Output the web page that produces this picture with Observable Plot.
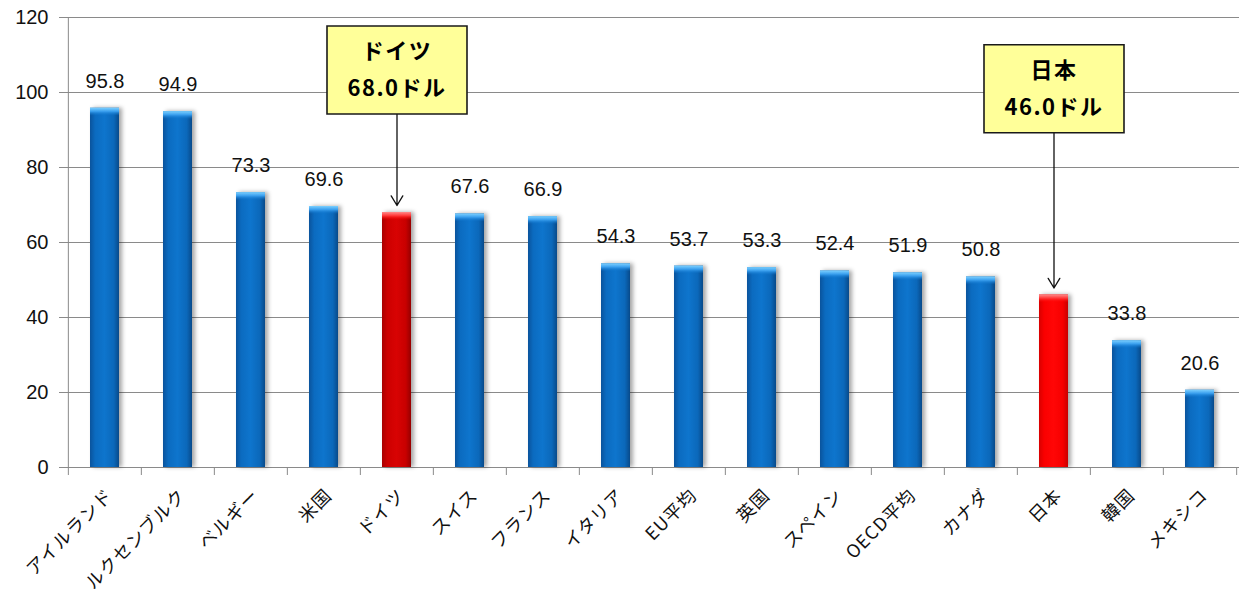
<!DOCTYPE html>
<html>
<head>
<meta charset="utf-8">
<script src="https://cdn.jsdelivr.net/npm/d3@7"></script>
<script src="https://cdn.jsdelivr.net/npm/@observablehq/plot@0.6"></script>
<style>
  body { margin: 0; background: #fff; }
  #chart svg { display: block; }
  g[fill^="url(#body"] { filter: drop-shadow(3px 0px 2px rgba(0, 0, 0, 0.35)); }
  g[font-weight="bold"] { letter-spacing: 1.5px; }
  g[font-size="18"] { letter-spacing: 1px; }
</style>
</head>
<body>
<svg width="0" height="0" style="position:absolute">
  <defs>
    <linearGradient id="bodyBlue" x1="0" x2="1" y1="0" y2="0">
      <stop offset="0" stop-color="#0a539c"/>
      <stop offset="0.18" stop-color="#0b6bc0"/>
      <stop offset="0.5" stop-color="#0e75cd"/>
      <stop offset="0.82" stop-color="#0b68ba"/>
      <stop offset="1" stop-color="#084a8a"/>
    </linearGradient>
    <linearGradient id="capBlue" x1="0" x2="0" y1="0" y2="1">
      <stop offset="0" stop-color="#7cd0ff"/>
      <stop offset="0.45" stop-color="#3a9fee"/>
      <stop offset="1" stop-color="#0e75cd" stop-opacity="0"/>
    </linearGradient>
    <linearGradient id="bodyRedDeep" x1="0" x2="1" y1="0" y2="0">
      <stop offset="0" stop-color="#a80000"/>
      <stop offset="0.18" stop-color="#cc0000"/>
      <stop offset="0.5" stop-color="#d80303"/>
      <stop offset="0.82" stop-color="#c80000"/>
      <stop offset="1" stop-color="#960000"/>
    </linearGradient>
    <linearGradient id="bodyRed" x1="0" x2="1" y1="0" y2="0">
      <stop offset="0" stop-color="#d80000"/>
      <stop offset="0.18" stop-color="#fa0000"/>
      <stop offset="0.5" stop-color="#ff0606"/>
      <stop offset="0.82" stop-color="#f60000"/>
      <stop offset="1" stop-color="#c80000"/>
    </linearGradient>
    <linearGradient id="capRed" x1="0" x2="0" y1="0" y2="1">
      <stop offset="0" stop-color="#ff8a8a"/>
      <stop offset="0.45" stop-color="#ff3a3a"/>
      <stop offset="1" stop-color="#ff0000" stop-opacity="0"/>
    </linearGradient>
  </defs>
</svg>
<div id="chart"></div>
<script>
// 一人当たりの金額(ドル)
const countries = [
  "アイルランド", "ルクセンブルク", "ベルギー", "米国", "ドイツ", "スイス",
  "フランス", "イタリア", "EU平均", "英国", "スペイン", "OECD平均",
  "カナダ", "日本", "韓国", "メキシコ"
];
const values = [95.8, 94.9, 73.3, 69.6, 68.0, 67.6, 66.9, 54.3, 53.7, 53.3, 52.4, 51.9, 50.8, 46.0, 33.8, 20.6];
const yTicks = [0, 20, 40, 60, 80, 100, 120];

// 吹き出しで強調する国と、その吹き出しを置く高さ(目盛りの単位)
const calloutNames = ["ドイツ", "日本"];
const calloutLevels = [106, 101];

const width = 1243, height = 605;
const marginLeft = 66, marginRight = 4, marginTop = 17, marginBottom = 138;
const step = (width - marginLeft - marginRight) / countries.length;
const pxPerUnit = (height - marginTop - marginBottom) / (yTicks[yTicks.length - 1]);
const u = px => px / pxPerUnit; // pixels -> axis units

const rows = countries.map((name, i) => ({name, value: values[i]}));
const plain = rows.filter(d => !calloutNames.includes(d.name));
const germany = rows.filter(d => d.name === "ドイツ");
const japan = rows.filter(d => d.name === "日本");
const notes = calloutNames.map((name, i) => {
  const value = values[countries.indexOf(name)];
  return {name, value, level: calloutLevels[i], text: `${name}\n${value.toFixed(1)}ドル`};
});

const numFont = "'Liberation Sans', sans-serif";
const jpFont = "'Noto Sans CJK JP', sans-serif";
const gridColor = "#8a8a8a";
const capH = u(8);

const calloutBox = {draw(ctx) { ctx.rect(-70, -44, 140, 88); }};

const chart = Plot.plot({
  width, height, marginLeft, marginRight, marginTop, marginBottom,
  style: {background: "#fff", fontFamily: numFont},
  x: {type: "band", domain: countries, paddingInner: 0.6, paddingOuter: 0.3, axis: null},
  y: {domain: [0, 120], axis: null},
  marks: [
    // gridlines
    Plot.ruleY(yTicks, {stroke: gridColor, strokeWidth: 1, insetLeft: -7}),
    // vertical axis line and category boundary ticks
    Plot.ruleX([countries[0]], {y1: 0, y2: 120, dx: -step / 2, stroke: gridColor}),
    Plot.ruleX(countries, {y1: -u(8), y2: 0, dx: -step / 2, stroke: gridColor}),
    Plot.ruleX([countries[countries.length - 1]], {y1: -u(8), y2: 0, dx: step / 2, stroke: gridColor}),
    Plot.axisY(yTicks, {tickSize: 0, tickPadding: 18, fontSize: 20, fontFamily: numFont, fill: "#111", label: null}),

    // bars
    Plot.barY(plain, {x: "name", y: "value", fill: "url(#bodyBlue)"}),
    Plot.barY(germany, {x: "name", y: "value", fill: "url(#bodyRedDeep)"}),
    Plot.barY(japan, {x: "name", y: "value", fill: "url(#bodyRed)"}),
    Plot.barY(plain, {x: "name", y1: d => d.value - capH, y2: "value", fill: "url(#capBlue)"}),
    Plot.barY([...germany, ...japan], {x: "name", y1: d => d.value - capH, y2: "value", fill: "url(#capRed)"}),

    // value labels
    Plot.text(plain, {x: "name", y: "value", text: d => d.value.toFixed(1), dy: -27,
      fontSize: 20, fontFamily: numFont, fill: "#111"}),

    // category labels
    Plot.text(countries, {x: d => d, y: 0, text: d => d, dy: 20, dx: 0, rotate: -45,
      textAnchor: "end", lineAnchor: "top", fontSize: 18, fontFamily: jpFont, fill: "#111"}),

    // callouts
    Plot.arrow(notes, {x1: "name", x2: "name", y1: "level", y2: "value",
      insetStart: 44, insetEnd: 7, headLength: 13, headAngle: 62, stroke: "#111", strokeWidth: 1.3}),
    Plot.dot(notes, {x: "name", y: "level", r: 1, symbol: calloutBox,
      fill: "#ffff99", stroke: "#1a1a1a", strokeWidth: 1.6}),
    Plot.text(notes, {x: "name", y: "level", text: "text", dy: -4, lineHeight: 1.65,
      fontSize: 22, fontWeight: "bold", fontFamily: jpFont, fill: "#000"})
  ]
});

document.getElementById("chart").appendChild(chart);
</script>
</body>
</html>
